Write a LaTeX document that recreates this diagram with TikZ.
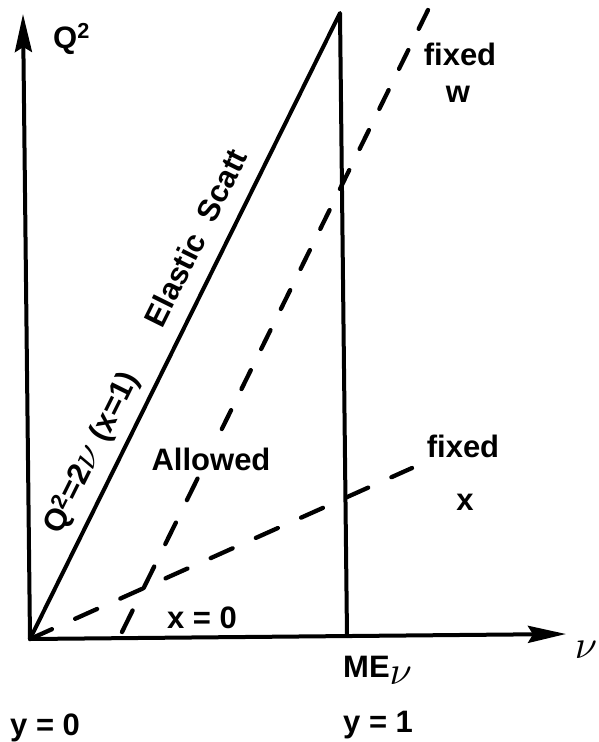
\documentclass[tikz,border=0pt]{standalone}
\usepackage{graphicx}
\usepackage{fontspec}
\setmainfont{Liberation Sans}[BoldFont={Liberation Sans Bold}]
\usetikzlibrary{arrows.meta}
\newcommand{\scalednu}[1]{\scalebox{#1}{\fontsize{10}{12}\selectfont$\nu$}}
\begin{document}
\begin{tikzpicture}[x=1pt,y=-1pt,
  axis/.style={line width=4pt, -{Stealth[length=38pt,width=17pt,inset=5pt]}},
  solidline/.style={line width=4pt, line join=round, line cap=round},
  xdash/.style={line width=4.3pt, line cap=round, dash pattern=on 24pt off 25.5pt},
  wdash/.style={line width=4.3pt, line cap=round, dash pattern=on 21pt off 23.6pt},
  wdashlow/.style={line width=4.3pt, line cap=round, dash pattern=on 24pt off 25pt},
  lbl/.style={inner sep=0pt, font=\fontsize{31}{36}\selectfont\bfseries},
]
\useasboundingbox (0,0) rectangle (598,742);
% points
\coordinate (O) at (30,639);
\coordinate (ytop) at (23,14);
\coordinate (xend) at (566,634);
\coordinate (apex) at (340,13);
\coordinate (foot) at (347,636);
\coordinate (xd) at (412,468);
\coordinate (wb) at (122,632);
\coordinate (wt) at (428,10);
\coordinate (w1) at (217.4,438);
\coordinate (w2) at (197.8,478);
% axes
\draw[axis] (O) -- (ytop);
\draw[axis] (O) -- (xend);
% elastic line and kinematic limit
\draw[solidline] (O) -- (apex) -- (foot);
% dashed lines
\draw[xdash] (O) -- (xd);
\draw[wdash] (wt) -- (w1);
\draw[wdashlow] (wb) -- (w2);
% labels
\node[lbl, anchor=base west] (lQ) at (53,48) {Q\textsuperscript{2}};
\node[lbl, anchor=base] (lfw) at (460,65) {fixed};
\node[lbl, anchor=base] (lw) at (458,102) {w};
\node[lbl, anchor=base] (lfx) at (463,457) {fixed};
\node[lbl, anchor=base] (lx) at (465,510) {x};
\node[lbl, anchor=base] (lal) at (211,470) {Allowed};
\node[lbl, anchor=base] (lx0) at (202,628) {x = 0};
\node[lbl, anchor=base west] (lme) at (343,677) {ME\raisebox{-7pt}{\scalednu{4}}};
\node[inner sep=0pt] (lnu) at (586,650) {\scalednu{4}};
\node[lbl, anchor=base west] (ly0) at (10,735) {y = 0};
\node[lbl, anchor=base west] (ly1) at (343,732) {y = 1};
\node[lbl, rotate=63.6] (lel) at (195.5,237.8) {Elastic\ \ Scatt};
\node[lbl, rotate=63.6] (lq2) at (91.5,452.8) {Q\textsuperscript{2}=2\scalednu{4} (x=1)};
\end{tikzpicture}
\end{document}
